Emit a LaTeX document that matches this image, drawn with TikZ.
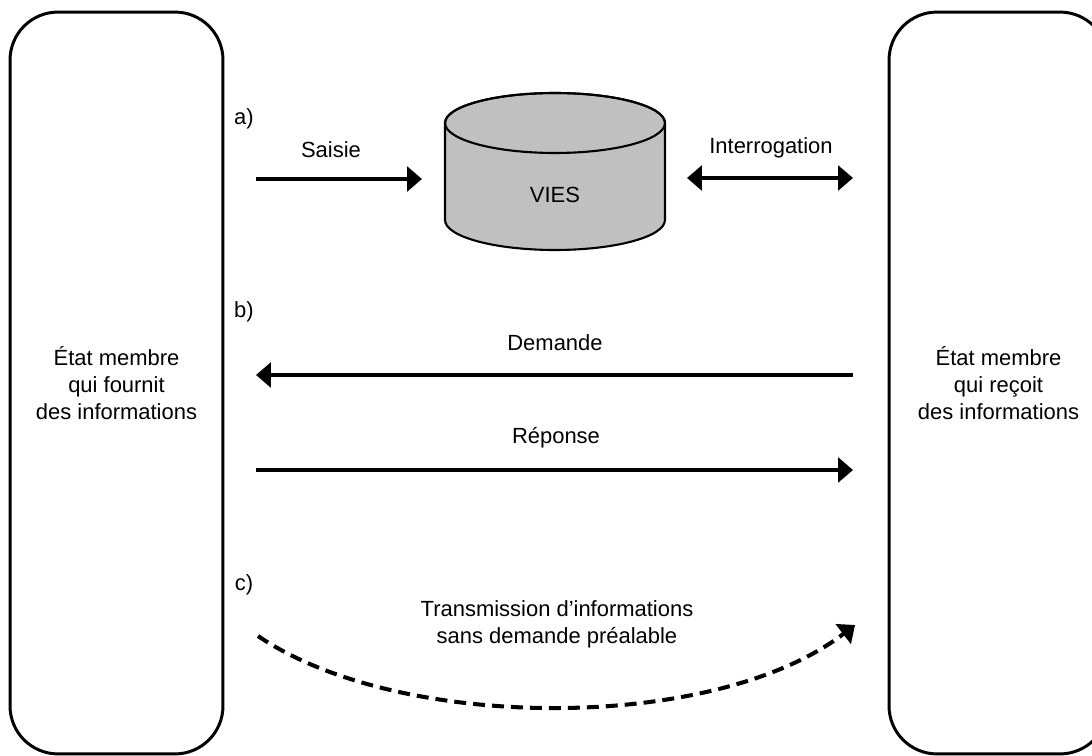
\documentclass[tikz,border=0pt]{standalone}
\usepackage{fontspec}
\setmainfont{Liberation Sans}
\usetikzlibrary{arrows.meta}

\definecolor{viesgray}{HTML}{C0C0C0}

\begin{document}
\begin{tikzpicture}[x=0.02cm, y=0.02cm,
  every node/.style={font=\fontsize{12.5}{15.3}\selectfont},
  member/.style={draw, line width=1.7pt, rounded corners=0.96cm, minimum width=4.26cm, minimum height=14.84cm, align=center},
  flow/.style={line width=2.3pt, -{Triangle[length=8.5pt, width=14pt]}},
  dflow/.style={line width=2.3pt, {Triangle[length=8.5pt, width=14pt]}-{Triangle[length=8.5pt, width=14pt]}},
  push/.style={flow, dash pattern=on 6.8pt off 4pt}]

\useasboundingbox (0,0) rectangle (1092,755);

% les deux Etats membres
\node[member] (prov) at (116.5,372) {État membre\\qui fournit\\des informations};
\node[member, minimum width=4.38cm] (recv) at (998.5,372) {État membre\\qui reçoit\\des informations};

% base VIES
\filldraw[fill=viesgray, line width=1.2pt] (445,632) -- (445,535)
  arc[start angle=180, end angle=360, x radius=2.2cm, y radius=0.6cm] -- (665,632)
  arc[start angle=0, end angle=180, x radius=2.2cm, y radius=0.6cm] -- cycle;
\draw[line width=1.2pt] (555,632) ellipse[x radius=2.2cm, y radius=0.6cm];
\node (vies) at (555,560) {VIES};

\node (a) at (244,636) {a)};
\node (b) at (244,443) {b)};
\node (c) at (244,170) {c)};

\coordinate (sa) at (256,576);
\coordinate (sb) at (422,576);
\coordinate (ia) at (687,577);
\coordinate (ib) at (853,577);
\coordinate (da) at (853,380);
\coordinate (db) at (256,380);
\coordinate (ra) at (256,285);
\coordinate (rb) at (853,285);
\coordinate (ta) at (258,119);
\coordinate (tb) at (855,130);

\node (saisie) at (331,605) {Saisie};
\node (interro) at (771,607) {Interrogation};
\node (demande) at (555,412) {Demande};
\node (reponse) at (556,317) {Réponse};
\node[align=center] (trans) at (557,131) {Transmission d’informations\\sans demande préalable};

\path (sa) edge[flow] (sb)
      (ia) edge[dflow] (ib)
      (da) edge[flow] (db)
      (ra) edge[flow] (rb);
\draw[push] (ta) .. controls (400,22.5) and (715,22.5) .. (tb);

\end{tikzpicture}
\end{document}
